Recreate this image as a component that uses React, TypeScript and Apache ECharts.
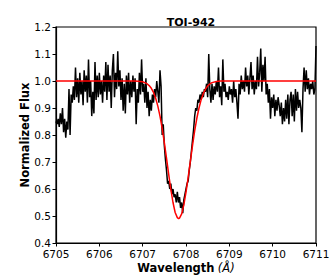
import React, { useEffect, useRef } from "react";
import * as echarts from "echarts";

// Observed spectrum: sampled every 0.025 Å starting at 6705.000 Å
const WAVE_START = 6705;
const WAVE_STEP = 0.025;
const FLUX_6705 = [
  0.85, 0.84, 0.86, 0.83, 0.88, 0.84, 0.90, 0.81, 0.86, 0.79,
  0.85, 0.82, 0.97, 0.80, 0.95, 0.92, 0.98, 0.93, 1.05, 0.94,
  1.01, 0.92, 1.03, 0.95, 1.00, 0.91, 1.04, 0.96, 1.02, 0.92,
  1.08, 0.94, 1.00, 0.87, 0.96, 0.88, 1.07, 0.93, 1.02, 0.94,
];
const FLUX_6706 = [
  1.03, 0.95, 1.00, 0.92, 1.02, 0.96, 1.07, 0.93, 1.06, 0.96,
  1.02, 0.90, 1.04, 1.10, 0.94, 1.03, 0.97, 1.11, 0.98, 1.04,
  0.93, 1.01, 0.89, 0.99, 0.88, 1.02, 0.95, 1.03, 0.92, 1.00,
  0.94, 1.02, 0.96, 1.01, 0.84, 0.97, 0.92, 1.03, 0.95, 1.08,
];
const FLUX_6707 = [
  0.96, 0.99, 0.92, 1.01, 0.90, 0.96, 0.87, 0.93, 0.89, 0.95,
  0.92, 0.97, 0.94, 1.00, 0.96, 0.92, 1.04, 0.98, 0.80, 0.84,
  0.76, 0.71, 0.67, 0.62, 0.63, 0.60, 0.62, 0.58, 0.60, 0.57,
  0.58, 0.55, 0.59, 0.55, 0.57, 0.53, 0.55, 0.51, 0.56, 0.58,
];
const FLUX_6708 = [
  0.60, 0.62, 0.63, 0.67, 0.70, 0.74, 0.78, 0.82, 0.87, 0.90,
  0.89, 0.93, 0.92, 0.95, 0.93, 0.96, 0.94, 0.97, 0.96, 0.99,
  0.94, 1.10, 0.97, 0.92, 0.99, 0.93, 0.98, 0.95, 1.00, 0.96,
  1.05, 0.94, 0.98, 0.91, 1.08, 0.96, 0.99, 0.94, 0.96, 0.93,
];
const FLUX_6709 = [
  0.98, 0.95, 0.97, 0.92, 1.00, 0.94, 0.97, 0.92, 0.86, 0.99,
  0.95, 1.02, 0.97, 1.00, 0.96, 1.05, 0.98, 1.02, 0.95, 1.01,
  1.07, 0.97, 1.02, 0.95, 1.00, 0.97, 1.09, 0.98, 1.03, 1.12,
  0.96, 1.06, 1.00, 1.09, 0.95, 0.99, 0.92, 0.97, 0.86, 0.94,
];
const FLUX_6710 = [
  0.90, 0.95, 0.87, 0.93, 0.89, 0.94, 0.91, 0.87, 0.92, 0.84,
  0.90, 0.85, 0.93, 0.86, 0.95, 0.84, 0.93, 0.96, 0.87, 0.95,
  0.85, 0.97, 0.89, 0.96, 0.90, 0.93, 0.90, 0.81, 0.97, 1.05,
  0.96, 1.04, 0.97, 1.01, 0.95, 0.99, 0.97, 1.00, 0.95, 0.97,
];
const FLUX_6711 = [1.13];

// Fitted line profile (red)
const FIT_WAVE = [
  6705.0, 6706.8, 6706.9, 6707.0, 6707.05, 6707.1, 6707.15, 6707.2, 6707.25,
  6707.3, 6707.35, 6707.4, 6707.45, 6707.5, 6707.55, 6707.6, 6707.65, 6707.7,
  6707.75, 6707.8, 6707.83, 6707.85, 6707.9, 6707.95, 6708.0, 6708.05, 6708.1,
  6708.15, 6708.2, 6708.25, 6708.3, 6708.35, 6708.4, 6708.45, 6708.5, 6708.55,
  6708.6, 6708.7, 6708.8, 6711.0,
];
const FIT_FLUX = [
  1.0, 1.0, 0.999, 0.997, 0.994, 0.99, 0.983, 0.973, 0.958,
  0.936, 0.907, 0.87, 0.825, 0.772, 0.714, 0.655, 0.599, 0.55,
  0.513, 0.494, 0.49, 0.492, 0.508, 0.541, 0.588, 0.643, 0.702,
  0.761, 0.815, 0.862, 0.9, 0.931, 0.954, 0.97, 0.982, 0.989,
  0.994, 0.998, 1.0, 1.0,
];

const X_MIN = 6705;
const X_MAX = 6711;
const X_INTERVAL = 1;
const Y_MIN = 0.4;
const Y_MAX = 1.2;
const Y_INTERVAL = 0.1;

const TITLE = "TOI-942";

export default function App() {
  const ref = useRef<HTMLDivElement>(null);

  useEffect(() => {
    if (!ref.current) return;
    const chart = echarts.init(ref.current, null, { renderer: "svg" });
    const flux = [
      ...FLUX_6705, ...FLUX_6706, ...FLUX_6707,
      ...FLUX_6708, ...FLUX_6709, ...FLUX_6710, ...FLUX_6711,
    ];
    const obs = flux.map((f, i) => [+(WAVE_START + i * WAVE_STEP).toFixed(3), f]);
    const fit = FIT_WAVE.map((w, i) => [w, FIT_FLUX[i]]);
    const font = "DejaVu Sans";

    chart.setOption({
      animation: false,
      backgroundColor: "#ffffff",
      title: {
        text: TITLE,
        left: 186,
        textAlign: "center",
        top: 12,
        textStyle: { fontFamily: font, fontSize: 11, fontWeight: "bold", color: "#000" },
      },
      grid: {
        left: 56, right: 16, top: 27, bottom: 34,
        containLabel: false,
        outerBoundsMode: "none",
        show: true, borderColor: "#000", borderWidth: 1.2, backgroundColor: "transparent",
      },
      xAxis: {
        type: "value",
        min: X_MIN, max: X_MAX, interval: X_INTERVAL,
        name: "{b|Wavelength} {i|(Å)}",
        nameLocation: "middle",
        nameGap: 19,
        nameMoveOverlap: false,
        nameTextStyle: {
          verticalAlign: "top",
          rich: {
            b: { fontFamily: font, fontSize: 11.5, fontWeight: "bold", color: "#000" },
            i: { fontFamily: font, fontSize: 11.5, fontStyle: "italic", color: "#000" },
          },
        },
        axisLine: { show: true, lineStyle: { color: "#000", width: 1.2 } },
        axisTick: { show: true, length: 3.5, lineStyle: { color: "#000", width: 1 } },
        axisLabel: { fontFamily: font, fontSize: 10.5, color: "#000", margin: 5, formatter: (v: number) => String(Math.round(v)) },
        splitLine: { show: false },
      },
      yAxis: {
        type: "value",
        min: Y_MIN, max: Y_MAX, interval: Y_INTERVAL,
        name: "Normalized Flux",
        nameLocation: "middle",
        nameGap: 25,
        nameMoveOverlap: false,
        nameTextStyle: { fontFamily: font, fontSize: 11.5, fontWeight: "bold", color: "#000" },
        axisLine: { show: true, lineStyle: { color: "#000", width: 1.2 } },
        axisTick: { show: true, length: 3.5, lineStyle: { color: "#000", width: 1 } },
        axisLabel: { fontFamily: font, fontSize: 10.5, color: "#000", margin: 5, formatter: (v: number) => v.toFixed(1) },
        splitLine: { show: false },
      },
      series: [
        {
          type: "line",
          data: obs,
          showSymbol: false,
          lineStyle: { color: "#000", width: 1.5 },
          z: 2,
        },
        {
          type: "line",
          data: fit,
          showSymbol: false,
          lineStyle: { color: "#ff0000", width: 1.5 },
          z: 3,
        },
      ],
    });
    return () => chart.dispose();
  }, []);

  return (
    <div
      ref={ref}
      style={{ position: "fixed", left: 0, top: 0, width: 332, height: 277 }}
    />
  );
}
